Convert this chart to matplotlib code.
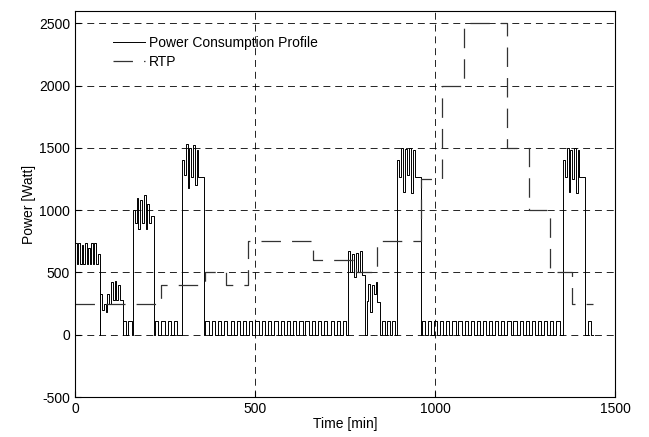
import numpy as np
import matplotlib
matplotlib.use('Agg')
import matplotlib.pyplot as plt

plt.rcParams['font.family'] = ['Liberation Sans', 'DejaVu Sans']
plt.rcParams['lines.scale_dashes'] = False
plt.rcParams['axes.unicode_minus'] = False

# RTP, one value per hour [Watt level]
rtp_hours = [0, 60, 120, 180, 240, 300, 360, 420, 480, 540, 600, 660,
             720, 780, 840, 900, 960, 1020, 1080, 1140, 1200, 1260, 1320, 1380, 1440]
rtp_vals = [250, 250, 250, 250, 400, 400, 500, 400, 750, 750, 750, 600,
            600, 500, 750, 750, 1250, 2000, 2500, 2500, 1500, 1000, 500, 250]

# appliance clusters (step breakpoints, min / Watt)
clA_t = [0, 5, 9, 14, 18, 23, 27, 32, 36, 41, 45, 50, 54, 59, 63, 68]
clA_p = [740, 570, 740, 570, 720, 570, 740, 570, 700, 570, 740, 570, 740, 570, 650, 0]
clB_t = [70, 75, 80, 85, 90, 95, 100, 105, 110, 115, 120, 125, 133]
clB_p = [330, 200, 250, 180, 330, 250, 420, 280, 430, 280, 400, 280, 0]
clC_t = [161, 166, 171, 176, 181, 186, 191, 196, 201, 206, 211, 219]
clC_p = [1000, 900, 1100, 850, 1080, 900, 1120, 850, 1050, 900, 950, 0]
clD_t = [298, 303, 308, 313, 318, 323, 328, 333, 338, 343, 348, 358]
clD_p = [1400, 1280, 1530, 1180, 1500, 1270, 1520, 1200, 1480, 1270, 1270, 0]
clE_t = [758, 764, 769, 775, 780, 786, 791, 797, 805]
clE_p = [670, 500, 650, 460, 660, 500, 670, 480, 0]
clF_t = [810, 815, 820, 825, 830, 835, 840, 847]
clF_p = [270, 410, 180, 400, 330, 420, 260, 0]
clG_t = [895, 900, 906, 911, 917, 922, 928, 933, 939, 945, 960]
clG_p = [1400, 1270, 1500, 1150, 1490, 1280, 1500, 1140, 1480, 1270, 0]
clH_t = [1356, 1361, 1366, 1371, 1376, 1381, 1386, 1391, 1396, 1401, 1417]
clH_p = [1400, 1270, 1500, 1150, 1480, 1250, 1500, 1140, 1480, 1270, 0]

# fridge pulses: start times [min], on length and level
fridge_on = [133, 148, 222, 240, 257, 274,
             362, 380, 397, 414, 432, 449, 467, 484, 501, 519, 536, 554, 571,
             588, 606, 623, 640, 658, 675, 692, 710, 727, 745,
             852, 866, 880,
             963, 980, 997, 1014, 1031, 1048, 1065, 1082, 1099, 1116, 1133,
             1150, 1167, 1184, 1201, 1218, 1235, 1252, 1269, 1286, 1303, 1320, 1337,
             1424]
fridge_len = 9
fridge_p = 110

clusters = [(clA_t, clA_p), (clB_t, clB_p), (clC_t, clC_p), (clD_t, clD_p),
            (clE_t, clE_p), (clF_t, clF_p), (clG_t, clG_p), (clH_t, clH_p)]

# collect all segments into one step signal
seg_t = []
seg_p = []
for ct, cp in clusters:
    seg_t += ct
    seg_p += cp
for s in fridge_on:
    seg_t += [s, s + fridge_len]
    seg_p += [fridge_p, 0]
order = np.argsort(seg_t, kind='stable')
prof_t = np.array(seg_t)[order]
prof_p = np.array(seg_p)[order]
prof_t = np.append(prof_t, 1440)
prof_p = np.append(prof_p, 0)

fig = plt.figure(figsize=(6.49, 4.37), dpi=100)
ax = fig.add_axes([0.1156, 0.0915, 0.832, 0.8835])

ax.step(prof_t, prof_p, where='post', color='black', lw=0.7,
        label='Power Consumption Profile')
rtp_line, = ax.step(rtp_hours, rtp_vals + [rtp_vals[-1]], where='post',
                    color='#333333', lw=0.9, label='RTP')
rtp_line.set_dashes((14, 8))

ax.set_xlim(0, 1500)
ax.set_ylim(-500, 2600)
ax.set_xticks([0, 500, 1000, 1500])
ax.set_yticks([-500, 0, 500, 1000, 1500, 2000, 2500])
ax.grid(True, color='black', linestyle=(0, (5, 3.5)), lw=0.6)
ax.tick_params(direction='in', labelsize=10, length=4)
for sp in ax.spines.values():
    sp.set_linewidth(0.8)
ax.set_xlabel('Time [min]', fontsize=10, labelpad=1)
ax.set_ylabel('Power [Watt]', fontsize=10, labelpad=2)

leg = ax.legend(loc='upper left', frameon=False, fontsize=10,
                handlelength=2.3, borderaxespad=0, labelspacing=0.4,
                handletextpad=0.3, bbox_to_anchor=(0.06, 0.95))

fig.savefig('out.png', dpi=100)
